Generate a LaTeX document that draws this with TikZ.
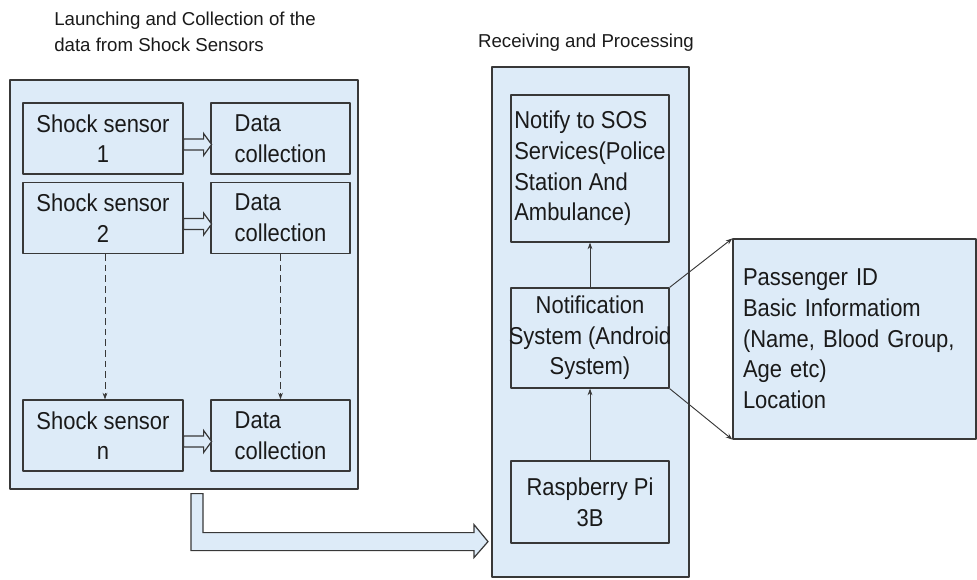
\documentclass[tikz,border=0pt]{standalone}
\usepackage{fontspec}
\usetikzlibrary{arrows.meta}
\setmainfont{Liberation Sans}
\newfontfamily\boxfam{Liberation Sans}[FakeStretch=0.9]
\definecolor{boxfill}{HTML}{DDEBF8}
\definecolor{boxline}{HTML}{383838}
\definecolor{txt}{HTML}{1A1A1A}
\newcommand\boxfont{\boxfam\fontsize{18.3}{23}\selectfont}
\newcommand\headfont{\fontsize{14}{19.5}\selectfont}
\tikzset{
  blk/.style={draw=boxline, fill=boxfill, line width=0.9pt, text=txt, inner sep=0pt},
  ssbox/.style={blk, align=center, minimum width=120pt, minimum height=53.25pt},
  dcbox/.style={blk, align=left, minimum width=104.25pt, minimum height=53.25pt},
  pibox/.style={blk, align=center, minimum width=118.5pt},
  hollow/.style={draw=boxline, fill=boxfill, line width=0.9pt, line join=miter},
  conn/.style={draw=boxline, line width=0.7pt, ->}
}
\begin{document}
\begin{tikzpicture}[x=0.75pt, y=-0.75pt, >={Stealth[length=5pt,width=3.6pt]}, font=\boxfont, line join=round]
\useasboundingbox (0,0) rectangle (977,579);
% titles
\path (54,32) node[anchor=west, inner sep=0pt, align=left, font=\headfont, text=txt] (tlaunch) {Launching and Collection of the\\data from Shock Sensors}
      (586,43) node[inner sep=0pt, font=\headfont, text=txt] (trecv) {Receiving and Processing};
% outer boxes
\path (184,284.5) node[blk, minimum width=261pt, minimum height=306.75pt] (lbox) {}
      (590.5,322) node[blk, minimum width=147.75pt, minimum height=382.5pt] (mbox) {};
% sensor rows
\foreach \r/\y in {1/138.5, 2/218, n/435.5}{
  \path (103,\y) node[ssbox] (ss\r) {Shock sensor\\\r}
        (280.5,\y) node[dcbox] (dc\r) {Data\\collection};
  \draw[hollow] (ss\r.east) ++(0,0.5) -- ++(20,0) -- ++(0,-5.5) -- ++(8,11) -- ++(-8,11) -- ++(0,-5.5) -- ++(-20,0) -- cycle;
}
\draw[conn, dash pattern=on 5pt off 3pt] ([xshift=1.5pt]ss2.south) -- ([xshift=1.5pt]ssn.north);
\draw[conn, dash pattern=on 5pt off 3pt] (dc2) -- (dcn);
% big arrow to the receiver
\draw[hollow] (lbox.south) ++(7,4) -- ++(12,0) -- ++(0,39) -- ++(271,0) -- ++(0,-8) -- ++(14,17) -- ++(-14,16) -- ++(0,-7) -- ++(-283,0) -- cycle;
% receiving side
\path (590,168.5) node[pibox, align=left, minimum height=110.25pt] (sos) {Notify to SOS\\Services(Police\\Station And\\Ambulance)}
      (590,338) node[pibox, minimum height=75pt] (notif) {Notification\\\makebox[0pt]{System (Android}\\System)}
      (590,502) node[pibox, minimum height=61.5pt] (rpi) {Raspberry Pi\\3B}
      (854.5,339) node[blk, align=left, text width=167.25pt, inner xsep=7.5pt, minimum height=150pt] (info) {Passenger ID\\Basic Informatiom\\(Name, Blood Group,\\Age etc)\\Location};
\draw[conn] (rpi) -- (notif);
\draw[conn] (notif) -- (sos);
\draw[conn] (notif.north east) -- (info.north west);
\draw[conn] (notif.south east) -- (info.south west);
\end{tikzpicture}
\end{document}
